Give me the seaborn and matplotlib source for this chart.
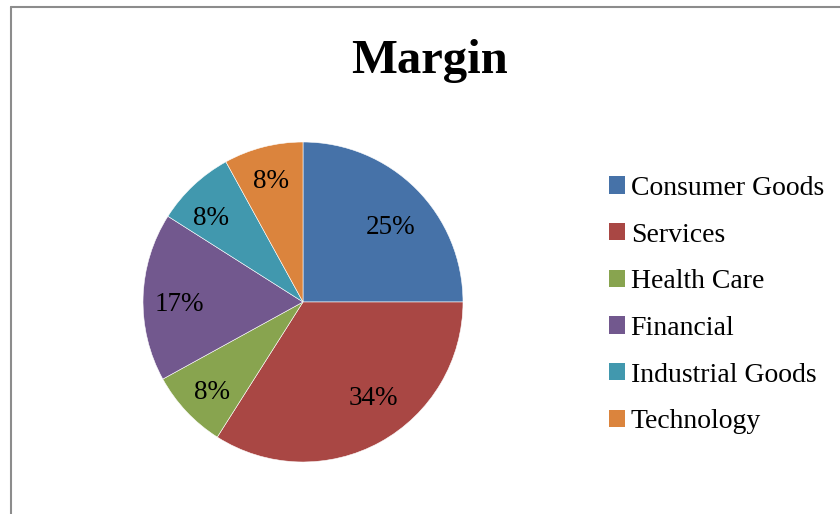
import matplotlib
matplotlib.use('Agg')
import numpy as np
import matplotlib.pyplot as plt
from matplotlib.lines import Line2D
from matplotlib.patches import Patch
import seaborn as sns

# Chart data
sectors = ['Consumer Goods', 'Services', 'Health Care', 'Financial',
           'Industrial Goods', 'Technology']
margin_pct = [25, 34, 8, 17, 8, 8]
sector_colors = ['#4672A8', '#A94744', '#88A44F', '#72588E', '#4198AE', '#DB843D']

# label placement (fraction of radius, angle nudge in degrees) - Excel "best fit" look
label_radius = [0.73, 0.73, 0.79, 0.775, 0.79, 0.80]
label_shift = [-3.5, 8.0, 0.8, 1.8, 3.4, 0.0]

sns.set_theme(style='white')
plt.rcParams['font.family'] = ['Liberation Serif', 'DejaVu Serif']
plt.rcParams['text.color'] = 'black'

W, H = 840, 514
fig = plt.figure(figsize=(W / 100, H / 100), dpi=100)
fig.patch.set_facecolor('white')

# Chart area border (only top and left edges visible in the crop)
fig.add_artist(Line2D([11 / W, 11 / W], [0, 1 - 7 / H], color='#8c8c8c', lw=1.5))
fig.add_artist(Line2D([11 / W, 1], [1 - 7 / H, 1 - 7 / H], color='#8c8c8c', lw=1.5))

# Pie axes: centre (303, 302), radius 160 px
r_px = 160
half = r_px * 1.1
cx, cy = 303, 302
ax = fig.add_axes([(cx - half) / W, (H - cy - half) / H, 2 * half / W, 2 * half / H])

wedges, texts, autotexts = ax.pie(
    margin_pct, colors=sector_colors, startangle=90, counterclock=False,
    autopct='%.0f%%', pctdistance=0.73,
    wedgeprops=dict(edgecolor='white', linewidth=0.4),
    textprops=dict(fontsize=19.5, color='black'))

for w, t, rr, sh in zip(wedges, autotexts, label_radius, label_shift):
    mid = np.deg2rad((w.theta1 + w.theta2) / 2 + sh)
    t.set_position((rr * np.cos(mid), rr * np.sin(mid)))
    t.set_verticalalignment('center_baseline')

ax.set_xlim(-1.1, 1.1)
ax.set_ylim(-1.1, 1.1)
ax.set_aspect('equal')
ax.axis('off')

fig.text(430 / W, 1 - 61 / H, 'Margin', ha='center', va='center',
         fontsize=35, fontweight='bold', color='black')

handles = [Patch(facecolor=c, edgecolor='none') for c in sector_colors]
fig.legend(handles, sectors, loc='center left', bbox_to_anchor=(609 / W, 1 - 305 / H),
           frameon=False, fontsize=20, handlelength=0.58, handleheight=0.58,
           handletextpad=0.2, labelspacing=0.78, borderaxespad=0, borderpad=0)

fig.savefig('out.png', dpi=100, facecolor='white')
